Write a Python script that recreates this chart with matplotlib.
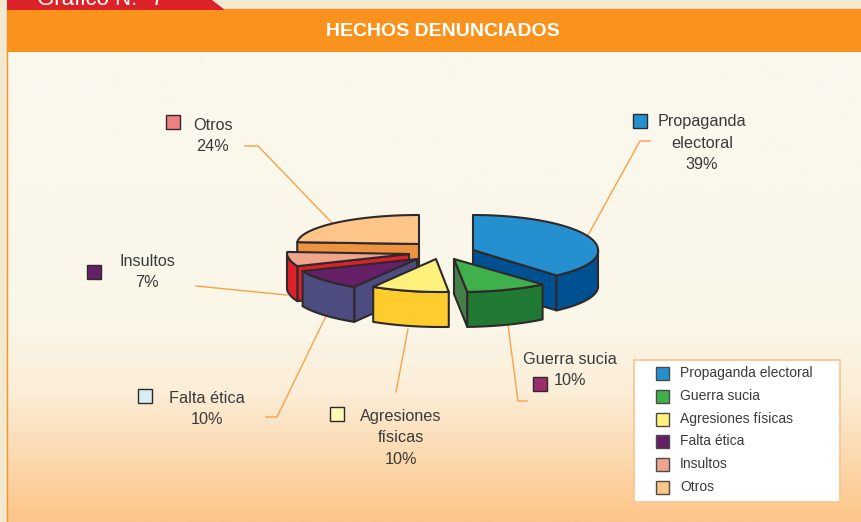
import numpy as np
import matplotlib
matplotlib.use("Agg")
import matplotlib.pyplot as plt
from matplotlib.colors import LinearSegmentedColormap
from matplotlib.patches import Polygon, Rectangle

plt.rcParams["font.family"] = ["Liberation Sans", "DejaVu Sans"]

# data
categories = ["Propaganda electoral", "Guerra sucia", "Agresiones físicas",
              "Falta ética", "Insultos", "Otros"]
values = [39, 10, 10, 10, 7, 24]
callout_names = ["Propaganda\nelectoral", "Guerra sucia", "Agresiones\nfísicas",
                 "Falta ética", "Insultos", "Otros"]

# styles
top_colors = ["#2490d0", "#40b04c", "#fff27c", "#641f66", "#eea58c", "#fdc588"]
side_colors = ["#005092", "#207a34", "#ffcc2e", "#4d4c80", "#dc2128", "#ee9440"]
cut_colors = ["#005092", "#458048", "#ffcc2e", "#4d4c80", "#dc2128", "#ee9440"]
key_colors = ["#2490d0", "#9b2f6d", "#fff8b8", "#d9eef3", "#641f66", "#f08080"]
EDGE = "#2e2a2c"
ORANGE = "#f9931d"

# pixel layout: the wedge tips, radii and thickness of the fake 3D pie
apex = [(473, 250), (454, 259), (436, 259), (417, 259), (409, 254), (419, 244)]
rad_x = [125, 133, 125, 125, 122, 122]
rad_y_back = [35, 33, 33, 33, 33, 29]
RAD_Y_FRONT = 33
SHEAR = 0.15  # front of the pie leans right, the original has some perspective
DEPTH = 35

key_xy = [(640, 121), (540, 384), (337, 414), (145, 396), (94, 272), (173, 122)]
label_xy = [(702, 143), (570, 370), (401, 438), (207, 409), (147, 272), (213, 136)]
leaders = [
    [(650, 141), (640, 141), (587, 237)],
    [(508, 325), (518, 401), (527, 401)],
    [(408, 329), (396, 392)],
    [(326, 316), (277, 417), (266, 417)],
    [(196, 286), (287, 295)],
    [(245, 146), (258, 146), (335, 226)],
]
legend_y = [373, 396, 419, 441, 464, 487]

fig = plt.figure(figsize=(8.62, 5.22), dpi=100)
ax = fig.add_axes([0, 0, 1, 1])
ax.set_xlim(0, 862)
ax.set_ylim(522, 0)
ax.axis("off")

# page and panel
ax.add_patch(Rectangle((0, 0), 862, 522, fc="#f3e8d0", ec="none", zorder=0))
cmap = LinearSegmentedColormap.from_list(
    "panel", [(0, "#faf8ee"), (0.58, "#faf6e8"), (0.72, "#fbeed8"), (1, "#fdc588")])
ax.imshow(np.linspace(0, 1, 256).reshape(-1, 1), cmap=cmap, aspect="auto",
          extent=(7, 862, 522, 52), zorder=1)
ax.set_xlim(0, 862)
ax.set_ylim(522, 0)
ax.add_patch(Rectangle((7, 10), 855, 42, fc=ORANGE, ec="none", zorder=2))
ax.plot([7, 7], [10, 522], color=ORANGE, lw=1, zorder=2)
ax.plot([225, 862], [9, 9], color=ORANGE, lw=1, zorder=2)
ax.add_patch(Polygon([(7, 0), (212, 0), (225, 10), (7, 10)], fc="#dc2229", ec="none", zorder=2))
ax.text(37, 5, "Gráfico N.º 7", color="white", fontsize=16, ha="left", va="baseline",
        zorder=3, clip_on=True, clip_path=Rectangle((7, 0), 205, 10, transform=ax.transData))
ax.text(443, 31, "HECHOS DENUNCIADOS", color="white", fontsize=14, fontweight="bold",
        ha="center", va="center", zorder=3)

# leader lines go under the pie
for pts in leaders:
    xs, ys = zip(*pts)
    ax.plot(xs, ys, color="#f9a24a", lw=1, zorder=3)


def rim(i, t1, t2, n=60):
    t = np.radians(np.linspace(t1, t2, n))
    s = np.sin(t)
    dy = np.where(s > 0, rad_y_back[i], RAD_Y_FRONT) * -s
    dx = rad_x[i] * np.cos(t) + SHEAR * np.clip(dy, 0, None)
    return np.column_stack([apex[i][0] + dx, apex[i][1] + dy])


def face(pts, color, z):
    ax.add_patch(Polygon(pts, closed=True, fc=color, ec=EDGE, lw=1.5, joinstyle="round", zorder=z))


# slices run clockwise from 12 o'clock
edges = 90 - np.cumsum([0] + values) * 3.6
down = np.array([0, DEPTH])
draw_order = [5, 4, 3, 2, 0, 1]
for step, i in enumerate(draw_order):
    z = 10 + step
    t1, t2 = edges[i], edges[i + 1]
    tip = np.array(apex[i], float)
    outline = rim(i, t1, t2)

    # cut faces that turn towards the viewer
    for end, sign in ((outline[0], 1), (outline[-1], -1)):
        v = end - tip
        if sign * -v[0] > 0:
            face([tip, end, end + down, tip + down], cut_colors[i], z)

    # outer wall, only the part in front of the ellipse's middle
    vis1 = min(t1, 0)
    vis2 = max(t2, -180)
    if vis1 > vis2:
        arc = rim(i, vis1, vis2)
        face(np.vstack([arc, arc[::-1] + down]), side_colors[i], z)

    face(np.vstack([[tip], outline]), top_colors[i], z)

# callouts
for i, name in enumerate(callout_names):
    ax.add_patch(Rectangle((key_xy[i][0] - 7, key_xy[i][1] - 7), 14, 14, fc=key_colors[i],
                           ec=EDGE, lw=1, zorder=4))
    ax.text(label_xy[i][0], label_xy[i][1], f"{name}\n{values[i]}%", color="#3a3a3a",
            fontsize=11.7, ha="center", va="center", linespacing=1.52, zorder=4)

# legend
ax.add_patch(Rectangle((634, 360), 206, 142, fc="white", ec="#fbc48a", lw=1.2, zorder=4))
for i, name in enumerate(categories):
    ax.add_patch(Rectangle((656.5, legend_y[i] - 6.5), 13, 13, fc=top_colors[i], ec="#4a4a4a",
                           lw=1, zorder=5))
    ax.text(680, legend_y[i], name, color="#3a3a3a", fontsize=10, ha="left", va="center", zorder=5)

fig.savefig("out.png", dpi=100)
